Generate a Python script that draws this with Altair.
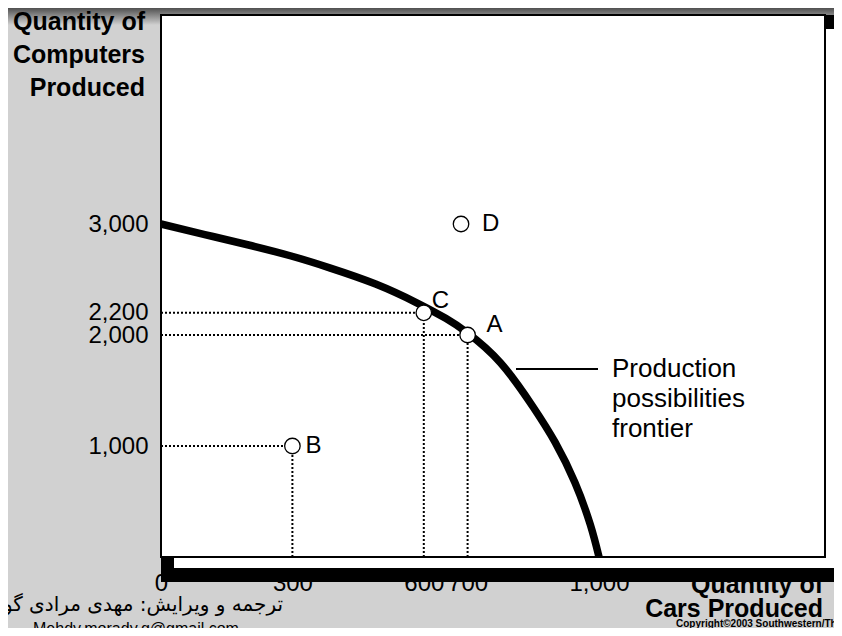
import altair as alt
import pandas as pd

# ---- data ----
ppf_cars = [0, 100, 200, 295, 385, 490, 585, 650, 700, 775, 850, 900, 945, 980, 1000]
ppf_computers = [3000, 2905, 2811, 2714, 2605, 2459, 2288, 2150, 2018, 1750, 1349, 1032, 671, 293, 0]

point_names = ["A", "B", "C", "D"]
point_cars = [700, 300, 600, 685]
point_computers = [2000, 1000, 2200, 3000]
point_guided = [True, True, True, False]

x_ticks = [0, 300, 600, 700, 1000]
y_ticks = [1000, 2000, 2200, 3000]

y_title = ["Quantity of", "Computers", "Produced"]
x_title_top = "Quantity of"
x_title_bottom = "Cars Produced"
ppf_label = ["Production", "possibilities", "frontier"]
persian_credit = "ترجمه و ویرایش: مهدی مرادی گوهر"
email = "Mehdy.morady.g@gmail.com"
copyright_txt = "Copyright\u00a92003  Southwestern/Thomson Learning"

# ---- tables ----
ppf = pd.DataFrame({"cars": ppf_cars, "computers": ppf_computers})
pts = pd.DataFrame({"name": point_names, "cars": point_cars,
                    "computers": point_computers, "guided": point_guided})
guides = pts[pts["guided"]].assign(zero=0)
one = pd.DataFrame({"k": [0]})

W, H = 664, 542
FONT = "Liberation Sans"

xs = alt.Scale(domain=[0, 1516], nice=False, zero=False)
ys = alt.Scale(domain=[0, 4883], nice=False, zero=False)

x_axis = alt.Axis(values=x_ticks, format=",d", title=None, grid=False, domain=False,
                  ticks=False, tickSize=0, labelPadding=33, labelBaseline="alphabetic",
                  labelFontSize=24, labelFont=FONT, labelColor="black",
                  labelFlush=False, labelOverlap=False)
y_axis = alt.Axis(values=y_ticks, format=",d", title=None, grid=False, domain=False,
                  ticks=False, tickSize=0, labelPadding=13,
                  labelFontSize=24, labelFont=FONT, labelColor="black",
                  labelFlush=False, labelOverlap=False)


def box(x1, x2, y1, y2, **kw):
    return alt.Chart(one).mark_rect(**kw).encode(
        x=alt.value(x1), x2=alt.value(x2), y=alt.value(y1), y2=alt.value(y2))


def label(text, x, y, **kw):
    return alt.Chart(one).mark_text(text=text, font=FONT, color="black", **kw).encode(
        x=alt.value(x), y=alt.value(y))


band = box(-160, 700, -7, 10, color=alt.Gradient(
    gradient="linear", x1=0, x2=0, y1=0, y2=1,
    stops=[alt.GradientStop(color="#505050", offset=0),
           alt.GradientStop(color="#d1d1d1", offset=1)]))

xtitle_top = label(x_title_top, 662, 578, align="right", baseline="alphabetic",
                   fontSize=25, fontWeight="bold")

shadow = box(0, 700, 0, 567, color="black")
shadow_inner = box(13, 675, 14, 553, color="white")
main_box = box(0, W, 0, H, fill="white", stroke="black", strokeWidth=2)

h_guides = alt.Chart(guides).mark_rule(color="black", strokeWidth=2, strokeDash=[2, 2]).encode(
    x=alt.X("zero:Q", scale=xs, axis=x_axis), x2="cars:Q",
    y=alt.Y("computers:Q", scale=ys, axis=y_axis))
v_guides = alt.Chart(guides).mark_rule(color="black", strokeWidth=2, strokeDash=[2, 2]).encode(
    x=alt.X("cars:Q", scale=xs, axis=x_axis),
    y=alt.Y("zero:Q", scale=ys, axis=y_axis), y2="computers:Q")

curve = alt.Chart(ppf).mark_line(color="black", strokeWidth=7.5, interpolate="natural",
                                 strokeCap="butt").encode(
    x=alt.X("cars:Q", scale=xs, axis=x_axis),
    y=alt.Y("computers:Q", scale=ys, axis=y_axis))

circles = alt.Chart(pts).mark_point(shape="circle", size=240, fill="white", fillOpacity=1,
                                    stroke="black", strokeWidth=1.3, opacity=1).encode(
    x=alt.X("cars:Q", scale=xs, axis=x_axis),
    y=alt.Y("computers:Q", scale=ys, axis=y_axis))

offsets = {"A": (19, -10), "B": (13, 0), "C": (8, -12), "D": (21, 0)}
letter_layers = []
for nm in point_names:
    dx, dy = offsets[nm]
    letter_layers.append(
        alt.Chart(pts).transform_filter(alt.datum.name == nm).mark_text(
            font=FONT, fontSize=24, align="left", baseline="middle", dx=dx, dy=dy,
            color="black").encode(
            x=alt.X("cars:Q", scale=xs, axis=x_axis),
            y=alt.Y("computers:Q", scale=ys, axis=y_axis),
            text="name:N"))

ppf_pointer = alt.Chart(one).mark_rule(color="black", strokeWidth=2).encode(
    x=alt.value(355), x2=alt.value(437), y=alt.value(354))
ppf_text = label(ppf_label, 451, 354, align="left", baseline="middle", fontSize=26,
                 lineHeight=30)

ytitle = label(y_title, -16, 15, align="right", baseline="alphabetic", fontSize=25,
               fontWeight="bold", lineHeight=33)
xtitle_bottom = label(x_title_bottom, 662, 602, align="right", baseline="alphabetic",
                      fontSize=25, fontWeight="bold")
persian = alt.Chart(one).mark_text(text=persian_credit, font="DejaVu Sans", fontSize=20,
                                   align="right", baseline="alphabetic", color="black").encode(
    x=alt.value(122), y=alt.value(596))
mail = label(email, -128, 619, align="left", baseline="alphabetic", fontSize=16)
copy_ = label(copyright_txt, 515, 612, align="left", baseline="alphabetic", fontSize=10,
              fontWeight="bold")

chart = alt.layer(
    band, xtitle_top, shadow, shadow_inner, main_box,
    h_guides, v_guides, curve, circles, *letter_layers,
    ppf_pointer, ppf_text, ytitle, xtitle_bottom, persian, mail, copy_
).properties(
    width=W, height=H,
    autosize=alt.AutoSizeParams(type="none"),
    padding={"left": 153, "top": 7, "right": 9, "bottom": 71},
    background="#d1d1d1",
).configure_view(stroke=None).configure_axis(zindex=0)

chart.save("out.html", embed_options={"renderer": "svg", "actions": False})
